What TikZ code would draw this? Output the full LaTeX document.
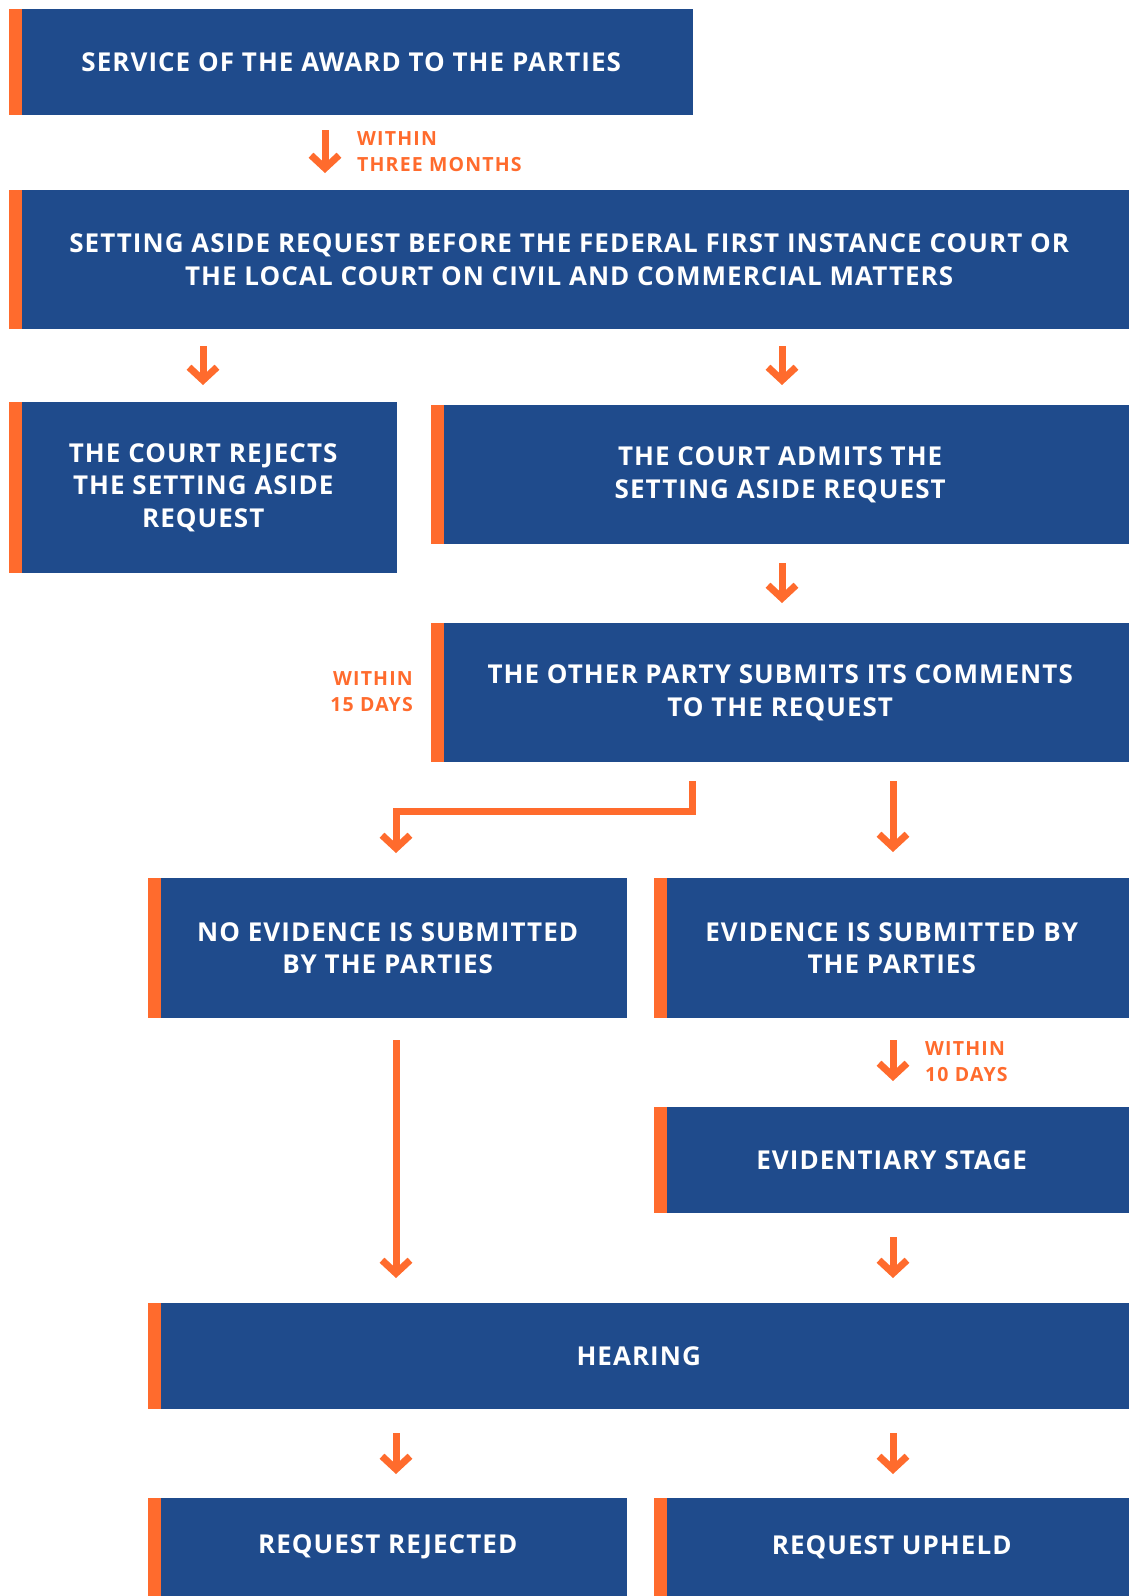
\documentclass[tikz,border=0pt]{standalone}
\usepackage{fontspec}
\setmainfont{Open Sans}
\newfontfamily\boxfont{Open Sans}[LetterSpace=4]
\newfontfamily\labfont{Open Sans}[LetterSpace=6]
\usetikzlibrary{arrows.meta,calc}
\definecolor{boxblue}{HTML}{1F4B8C}
\definecolor{accorange}{HTML}{FF6B2D}
\begin{document}
\begin{tikzpicture}[x=1pt,y=-1pt,
  box/.style={rectangle, fill=boxblue, text=white, inner sep=0pt, anchor=north west,
    align=center, font=\boxfont\fontsize{26}{32.5}\selectfont\bfseries,
    path picture={\fill[accorange] (path picture bounding box.north west) rectangle ([xshift=12.5pt]path picture bounding box.south west);}},
  arr/.style={draw=accorange, line width=7pt, line join=miter,
    -{Straight Barb[sharp,length=13pt,width=28pt]}},
  lab/.style={text=accorange, inner sep=0pt, font=\labfont\fontsize{19.5}{26}\selectfont\bfseries}
]
\useasboundingbox (0,0) rectangle (1129,1596);
% column coordinates
\coordinate (c203) at (203,0);
\coordinate (c325) at (325,0);
\coordinate (c396) at (396,0);
\coordinate (c692) at (692,0);
\coordinate (c782) at (782,0);
\coordinate (c893) at (893,0);

\node[box, minimum width=684pt, minimum height=106pt] (b1) at (9,9) {SERVICE OF THE AWARD TO THE PARTIES};
\node[box, minimum width=1120pt, minimum height=139pt] (b2) at (9,190) {SETTING ASIDE REQUEST BEFORE THE FEDERAL FIRST INSTANCE COURT OR\\THE LOCAL COURT ON CIVIL AND COMMERCIAL MATTERS};
\node[box, minimum width=388pt, minimum height=171pt] (b3) at (9,402) {THE COURT REJECTS\\THE SETTING ASIDE\\REQUEST};
\node[box, minimum width=698pt, minimum height=139pt] (b4) at (431,405) {THE COURT ADMITS THE\\SETTING ASIDE REQUEST};
\node[box, minimum width=698pt, minimum height=139pt] (b5) at (431,623) {THE OTHER PARTY SUBMITS ITS COMMENTS\\TO THE REQUEST};
\node[box, minimum width=479pt, minimum height=140pt] (b6) at (148,878) {NO EVIDENCE IS SUBMITTED\\BY THE PARTIES};
\node[box, minimum width=475pt, minimum height=140pt] (b7) at (654,878) {EVIDENCE IS SUBMITTED BY\\THE PARTIES};
\node[box, minimum width=475pt, minimum height=106pt] (b8) at (654,1107) {EVIDENTIARY STAGE};
\node[box, minimum width=981pt, minimum height=106pt] (b9) at (148,1303) {HEARING};
\node[box, minimum width=479pt, minimum height=98pt] (b10) at (148,1498) {REQUEST REJECTED};
\node[box, minimum width=475pt, minimum height=98pt] (b11) at (654,1498) {REQUEST UPHELD};

\node[lab, anchor=west, align=left] (l1) at (357,152) {WITHIN\\THREE MONTHS};
\node[lab, anchor=east, align=right] (l2) at (413,692) {WITHIN\\15 DAYS};
\node[lab, anchor=west, align=left] (l3) at (925,1062) {WITHIN\\10 DAYS};

\draw[arr, shorten <=15pt, shorten >=17pt] (b1.south -| c325) -- (b2.north -| c325);
\draw[arr, shorten <=17pt, shorten >=17pt] (b2.south -| c203) -- (b3.north -| c203);
\draw[arr, shorten <=17pt, shorten >=20pt] (b2.south -| c782) -- (b4.north -| c782);
\draw[arr, shorten <=19pt, shorten >=20pt] (b4.south -| c782) -- (b5.north -| c782);
\draw[arr, shorten <=19pt, shorten >=25pt] (b5.south -| c692) -- ++(0,49) -| (b6.north -| c396);
\draw[arr, shorten <=19pt, shorten >=26pt] (b5.south -| c893) -- (b7.north -| c893);
\draw[arr, shorten <=22pt, shorten >=25pt] (b6.south -| c396) -- (b9.north -| c396);
\draw[arr, shorten <=22pt, shorten >=26pt] (b7.south -| c893) -- (b8.north -| c893);
\draw[arr, shorten <=24pt, shorten >=25pt] (b8.south -| c893) -- (b9.north -| c893);
\draw[arr, shorten <=24pt, shorten >=24pt] (b9.south -| c396) -- (b10.north -| c396);
\draw[arr, shorten <=24pt, shorten >=24pt] (b9.south -| c893) -- (b11.north -| c893);
\end{tikzpicture}
\end{document}
